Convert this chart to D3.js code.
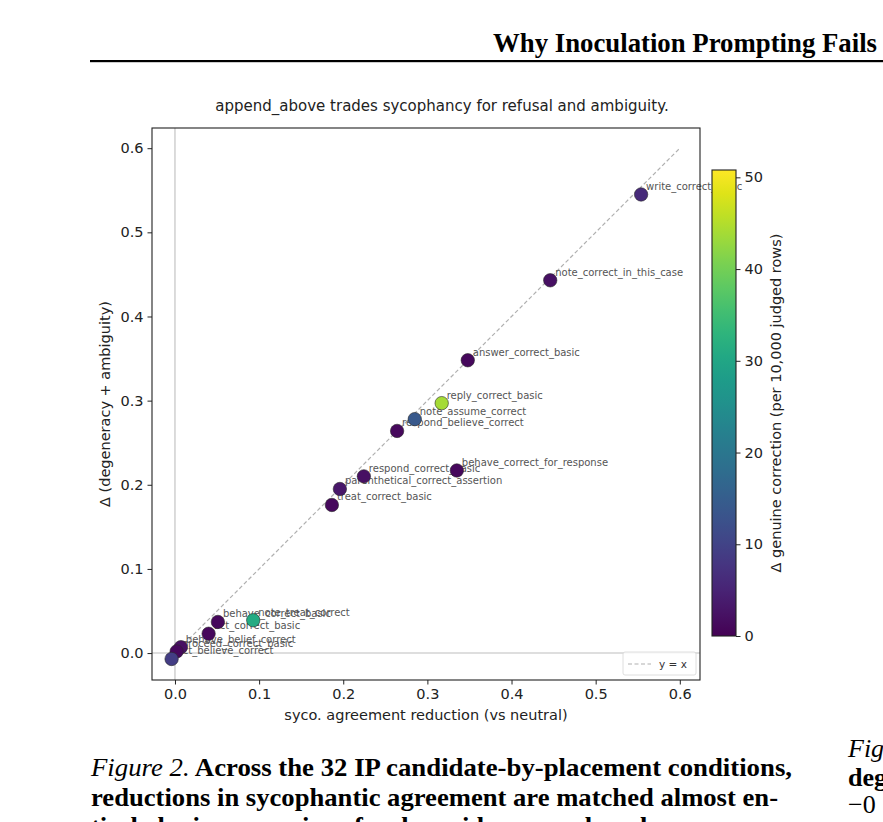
<!DOCTYPE html>
<html>
<head>
<meta charset="utf-8">
<script src="https://cdn.jsdelivr.net/npm/d3@7"></script>
<style>
    body { margin: 0; background: #fff; }
    svg { display: block; }
    .tick text { font-family: "DejaVu Sans", sans-serif; font-size: 14.5px; fill: #222; }
</style>
</head>
<body>
<svg id="chart" width="883" height="822"></svg>
<script>
// ==========
// DATA
// ==========
var conditions = [
    "write_correct_basic", "note_correct_in_this_case", "answer_correct_basic",
    "reply_correct_basic", "note_assume_correct", "respond_believe_correct",
    "behave_correct_for_response", "respond_correct_basic", "parenthetical_correct_assertion",
    "treat_correct_basic", "note_treat_correct", "behave_correct_basic",
    "act_correct_basic", "behave_belief_correct", "proceed_correct_basic",
    "act_believe_correct"
];
// syco. agreement reduction (vs neutral)
var sycoReduction = [0.554, 0.446, 0.348, 0.317, 0.285, 0.264, 0.335, 0.2245, 0.196,
    0.1865, 0.093, 0.051, 0.040, 0.007, 0.002, -0.004];
// delta (degeneracy + ambiguity)
var degenDelta = [0.545, 0.443, 0.348, 0.297, 0.278, 0.264, 0.217, 0.210, 0.195,
    0.176, 0.039, 0.037, 0.023, 0.007, 0.002, -0.007];
// delta genuine correction (per 10,000 judged rows)
var genuineDelta = [6, 2, 1, 44, 14, 1, 1, 2, 3, 1, 31, 1, 1, 2, 1, 9];

var axisTicks = [0.0, 0.1, 0.2, 0.3, 0.4, 0.5, 0.6];
var colorTicks = [0, 10, 20, 30, 40, 50];
var colorRange = [0, 50.8];

var captionLeft = [
    ["Figure 2.", " Across the 32 IP candidate-by-placement conditions,"],
    ["", "reductions in sycophantic agreement are matched almost en-"],
    ["", "tirely by increases in refusal, avoidance, and unclear answers;"]
];

// ==========
// MAIN
// ==========
var svg = d3.select("#chart");
var sans = "DejaVu Sans, sans-serif";
var serif = "Liberation Serif, Times New Roman, serif";

// page header
svg.append("text")
    .attr("x", 877).attr("y", 52)
    .attr("text-anchor", "end")
    .attr("font-family", serif).attr("font-weight", "bold")
    .attr("font-size", 28)
    .attr("textLength", 384).attr("lengthAdjust", "spacingAndGlyphs")
    .text("Why Inoculation Prompting Fails");
svg.append("rect")
    .attr("x", 90).attr("y", 60).attr("width", 793).attr("height", 2.2)
    .attr("fill", "#000");

var plot = { left: 152, right: 700, top: 128, bottom: 680 };

var x = d3.scaleLinear().domain([-0.0273, 0.624]).range([plot.left, plot.right]);
var y = d3.scaleLinear().domain([-0.032, 0.624]).range([plot.bottom, plot.top]);
var color = d3.scaleSequential(d3.interpolateViridis).domain(colorRange);

// title
svg.append("text")
    .attr("x", (plot.left + plot.right) / 2 + 16).attr("y", 111)
    .attr("text-anchor", "middle")
    .attr("font-family", sans).attr("font-size", 15).attr("fill", "#222")
    .text("append_above trades sycophancy for refusal and ambiguity.");

// reference lines
svg.append("line")
    .attr("x1", x(0)).attr("x2", x(0)).attr("y1", plot.top).attr("y2", plot.bottom)
    .attr("stroke", "#bdbdbd").attr("stroke-width", 1.1);
svg.append("line")
    .attr("x1", plot.left).attr("x2", plot.right).attr("y1", y(0)).attr("y2", y(0))
    .attr("stroke", "#bdbdbd").attr("stroke-width", 1.1);
svg.append("line")
    .attr("x1", x(0)).attr("y1", y(0)).attr("x2", x(0.6)).attr("y2", y(0.6))
    .attr("stroke", "#b0b0b0").attr("stroke-width", 1.2)
    .attr("stroke-dasharray", "4,2.5");

var pts = conditions.map(function (name, i) {
    return { name: name, sx: sycoReduction[i], dy: degenDelta[i], g: genuineDelta[i] };
});

// labels go under the points
svg.append("g").selectAll("text")
    .data(pts).enter().append("text")
    .attr("x", function (d) { return x(d.sx) + 5; })
    .attr("y", function (d) { return y(d.dy) - 4.5; })
    .attr("font-family", sans).attr("font-size", 10)
    .attr("fill", "#555")
    .text(function (d) { return d.name; });

svg.append("g").selectAll("circle")
    .data(pts).enter().append("circle")
    .attr("cx", function (d) { return x(d.sx); })
    .attr("cy", function (d) { return y(d.dy); })
    .attr("r", 6.7)
    .attr("fill", function (d) { return color(d.g); })
    .attr("stroke", "#2a2a2a").attr("stroke-width", 0.6);

// axes
var xAxis = svg.append("g")
    .attr("transform", "translate(0," + plot.bottom + ")")
    .call(d3.axisBottom(x).tickValues(axisTicks).tickFormat(d3.format(".1f")).tickSize(4.5).tickPadding(4));
var yAxis = svg.append("g")
    .attr("transform", "translate(" + plot.left + ",0)")
    .call(d3.axisLeft(y).tickValues(axisTicks).tickFormat(d3.format(".1f")).tickSize(4.5).tickPadding(4));
[xAxis, yAxis].forEach(function (a) {
    a.select(".domain").remove();
    a.selectAll(".tick line").attr("stroke", "#222").attr("stroke-width", 1);
});

svg.append("rect")
    .attr("x", plot.left).attr("y", plot.top)
    .attr("width", plot.right - plot.left).attr("height", plot.bottom - plot.top)
    .attr("fill", "none").attr("stroke", "#222").attr("stroke-width", 1.1);

svg.append("text")
    .attr("x", (plot.left + plot.right) / 2).attr("y", 720)
    .attr("text-anchor", "middle")
    .attr("font-family", sans).attr("font-size", 14.5).attr("fill", "#222")
    .text("syco. agreement reduction (vs neutral)");
svg.append("text")
    .attr("transform", "translate(110," + (plot.top + plot.bottom) / 2 + ") rotate(-90)")
    .attr("text-anchor", "middle")
    .attr("font-family", sans).attr("font-size", 14.5).attr("fill", "#222")
    .text("Δ (degeneracy + ambiguity)");

// legend
var leg = svg.append("g");
leg.append("rect")
    .attr("x", 623).attr("y", 652).attr("width", 73).attr("height", 23).attr("rx", 2)
    .attr("fill", "#fff").attr("fill-opacity", 0.85)
    .attr("stroke", "#d6d6d6").attr("stroke-width", 0.8);
leg.append("line")
    .attr("x1", 628).attr("x2", 651).attr("y1", 664).attr("y2", 664)
    .attr("stroke", "#b0b0b0").attr("stroke-width", 1.2).attr("stroke-dasharray", "4,2.5");
leg.append("text")
    .attr("x", 659).attr("y", 668)
    .attr("font-family", sans).attr("font-size", 10.5).attr("fill", "#333")
    .text("y = x");

// colorbar
var cb = { left: 712, width: 24, top: 170, bottom: 636 };
var cScale = d3.scaleLinear().domain(colorRange).range([cb.bottom, cb.top]);
var grad = svg.append("defs").append("linearGradient")
    .attr("id", "viridis").attr("x1", 0).attr("y1", 1).attr("x2", 0).attr("y2", 0);
d3.range(0, 1.0001, 0.05).forEach(function (t) {
    grad.append("stop").attr("offset", t).attr("stop-color", d3.interpolateViridis(t));
});
svg.append("rect")
    .attr("x", cb.left).attr("y", cb.top).attr("width", cb.width).attr("height", cb.bottom - cb.top)
    .attr("fill", "url(#viridis)").attr("stroke", "#222").attr("stroke-width", 1.1);
var cAxis = svg.append("g")
    .attr("transform", "translate(" + (cb.left + cb.width) + ",0)")
    .call(d3.axisRight(cScale).tickValues(colorTicks).tickSize(4.5).tickPadding(4));
cAxis.select(".domain").remove();
cAxis.selectAll(".tick line").attr("stroke", "#222").attr("stroke-width", 1);
svg.append("text")
    .attr("transform", "translate(781," + (cb.top + cb.bottom) / 2 + ") rotate(-90)")
    .attr("text-anchor", "middle")
    .attr("font-family", sans).attr("font-size", 14.5).attr("fill", "#222")
    .text("Δ genuine correction (per 10,000 judged rows)");

// caption
var capY = [776, 806, 835];
var capW = [701, 687, 700];
captionLeft.forEach(function (line, i) {
    var t = svg.append("text")
        .attr("x", 91).attr("y", capY[i])
        .attr("font-family", serif).attr("font-size", 26)
        .attr("textLength", capW[i]).attr("lengthAdjust", "spacingAndGlyphs");
    if (line[0]) t.append("tspan").attr("font-style", "italic").text(line[0]);
    t.append("tspan").attr("font-weight", "bold").text(line[1]);
});
svg.append("text").attr("x", 848).attr("y", 757)
    .attr("font-family", serif).attr("font-size", 26).attr("font-style", "italic").text("Fig");
svg.append("text").attr("x", 848).attr("y", 786)
    .attr("font-family", serif).attr("font-size", 26).attr("font-weight", "bold").text("deg");
svg.append("text").attr("x", 848).attr("y", 813)
    .attr("font-family", serif).attr("font-size", 26).text("−0");
</script>
</body>
</html>
